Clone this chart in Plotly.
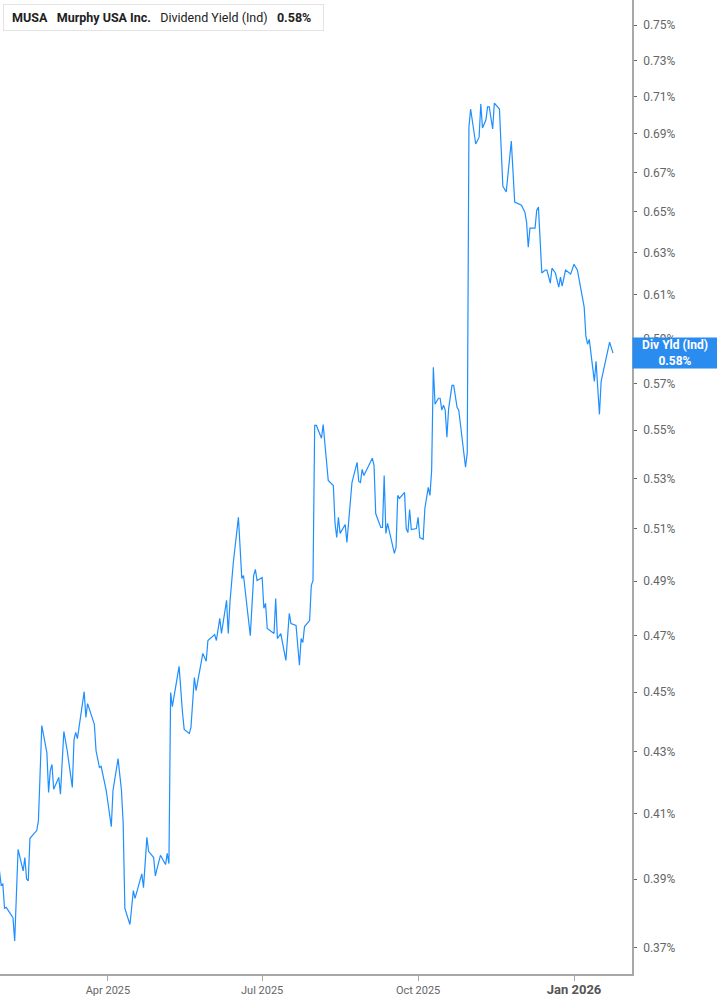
import math

import plotly.graph_objects as go

# Dividend yield (%)
dates = [
    "2025-01-27", "2025-01-28", "2025-01-29", "2025-01-30", "2025-01-31", "2025-02-02", "2025-02-04",
    "2025-02-05", "2025-02-07", "2025-02-10", "2025-02-11", "2025-02-12", "2025-02-13", "2025-02-14",
    "2025-02-18", "2025-02-19", "2025-02-21", "2025-02-24", "2025-02-25", "2025-02-26", "2025-02-27",
    "2025-02-28", "2025-03-03", "2025-03-04", "2025-03-06", "2025-03-08", "2025-03-11", "2025-03-12",
    "2025-03-13", "2025-03-14", "2025-03-18", "2025-03-19", "2025-03-20", "2025-03-24", "2025-03-25",
    "2025-03-27", "2025-03-28", "2025-03-31", "2025-04-03", "2025-04-04", "2025-04-07", "2025-04-09",
    "2025-04-10", "2025-04-11", "2025-04-14", "2025-04-16", "2025-04-17", "2025-04-21", "2025-04-22",
    "2025-04-24", "2025-04-25", "2025-04-28", "2025-04-29", "2025-04-30", "2025-05-02", "2025-05-05",
    "2025-05-06", "2025-05-07", "2025-05-08", "2025-05-09", "2025-05-13", "2025-05-15", "2025-05-16",
    "2025-05-19", "2025-05-20", "2025-05-22", "2025-05-23", "2025-05-27", "2025-05-29", "2025-05-30",
    "2025-06-03", "2025-06-04", "2025-06-06", "2025-06-07", "2025-06-10", "2025-06-11", "2025-06-12",
    "2025-06-14", "2025-06-17", "2025-06-19", "2025-06-20", "2025-06-24", "2025-06-26", "2025-06-27",
    "2025-06-28", "2025-07-01", "2025-07-02", "2025-07-03", "2025-07-04", "2025-07-08", "2025-07-09",
    "2025-07-10", "2025-07-12", "2025-07-15", "2025-07-17", "2025-07-18", "2025-07-21", "2025-07-23",
    "2025-07-24", "2025-07-25", "2025-07-26", "2025-07-29", "2025-07-30", "2025-07-31", "2025-08-01",
    "2025-08-02", "2025-08-05", "2025-08-06", "2025-08-09", "2025-08-12", "2025-08-13", "2025-08-14",
    "2025-08-15", "2025-08-16", "2025-08-19", "2025-08-20", "2025-08-23", "2025-08-26", "2025-08-27",
    "2025-08-28", "2025-08-29", "2025-08-30", "2025-09-03", "2025-09-04", "2025-09-05", "2025-09-06",
    "2025-09-09", "2025-09-10", "2025-09-11", "2025-09-12", "2025-09-13", "2025-09-15", "2025-09-17",
    "2025-09-18", "2025-09-19", "2025-09-20", "2025-09-23", "2025-09-24", "2025-09-25", "2025-09-26",
    "2025-09-27", "2025-09-30", "2025-10-01", "2025-10-02", "2025-10-04", "2025-10-05", "2025-10-07",
    "2025-10-08", "2025-10-09", "2025-10-10", "2025-10-11", "2025-10-13", "2025-10-14", "2025-10-15",
    "2025-10-16", "2025-10-17", "2025-10-18", "2025-10-19", "2025-10-21", "2025-10-22", "2025-10-24",
    "2025-10-25", "2025-10-28", "2025-10-29", "2025-10-30", "2025-10-31", "2025-11-01", "2025-11-04",
    "2025-11-06", "2025-11-07", "2025-11-08", "2025-11-10", "2025-11-11", "2025-11-12", "2025-11-14",
    "2025-11-15", "2025-11-18", "2025-11-20", "2025-11-22", "2025-11-25", "2025-11-27", "2025-11-30",
    "2025-12-01", "2025-12-03", "2025-12-04", "2025-12-05", "2025-12-06", "2025-12-09", "2025-12-10",
    "2025-12-11", "2025-12-13", "2025-12-15", "2025-12-16", "2025-12-18", "2025-12-19", "2025-12-21",
    "2025-12-23", "2025-12-24", "2025-12-25", "2025-12-27", "2025-12-30", "2026-01-01", "2026-01-03",
    "2026-01-07", "2026-01-08", "2026-01-09", "2026-01-10", "2026-01-13", "2026-01-14", "2026-01-16",
    "2026-01-17", "2026-01-22", "2026-01-24",
]
div_yield = [
    0.3925, 0.3883, 0.3886, 0.3814, 0.3817, 0.3802, 0.3787,
    0.3720, 0.3990, 0.3925, 0.3965, 0.3901, 0.3895, 0.4024,
    0.4048, 0.4079, 0.4387, 0.4296, 0.4168, 0.4239, 0.4258,
    0.4178, 0.4216, 0.4162, 0.4367, 0.4303, 0.4184, 0.4340,
    0.4364, 0.4343, 0.4502, 0.4414, 0.4461, 0.4391, 0.4303,
    0.4248, 0.4252, 0.4174, 0.4060, 0.4174, 0.4277, 0.4174,
    0.4070, 0.3814, 0.3767, 0.3866, 0.3843, 0.3916, 0.3875,
    0.4027, 0.3984, 0.3965, 0.3910, 0.3932, 0.3972, 0.3944,
    0.3978, 0.3947, 0.4499, 0.4451, 0.4590, 0.4431, 0.4374,
    0.4360, 0.4381, 0.4551, 0.4506, 0.4636, 0.4608, 0.4682,
    0.4703, 0.4682, 0.4762, 0.4707, 0.4828, 0.4707, 0.4821,
    0.4971, 0.5145, 0.4910, 0.4921, 0.4699, 0.4921, 0.4944,
    0.4902, 0.4913, 0.4799, 0.4817, 0.4725, 0.4707, 0.4835,
    0.4689, 0.4707, 0.4611, 0.4780, 0.4743, 0.4736, 0.4594,
    0.4689, 0.4675, 0.4732, 0.4754, 0.4883, 0.4902, 0.5520,
    0.5520, 0.5466, 0.5524, 0.5292, 0.5272, 0.5121, 0.5066,
    0.5145, 0.5082, 0.5117, 0.5047, 0.5284, 0.5366, 0.5288,
    0.5284, 0.5337, 0.5312, 0.5366, 0.5383, 0.5354, 0.5160,
    0.5105, 0.5105, 0.5312, 0.5082, 0.5121, 0.5066, 0.5005,
    0.5028, 0.5232, 0.5220, 0.5244, 0.5101, 0.5085, 0.5176,
    0.5097, 0.5101, 0.5145, 0.5066, 0.5059, 0.5180, 0.5264,
    0.5232, 0.5333, 0.5771, 0.5610, 0.5636, 0.5636, 0.5585,
    0.5606, 0.5585, 0.5470, 0.5589, 0.5692, 0.5692, 0.5597,
    0.5585, 0.5383, 0.5346, 0.5404, 0.6936, 0.7033, 0.6847,
    0.6883, 0.7060, 0.6931, 0.6974, 0.7044, 0.7044, 0.6926,
    0.7065, 0.7033, 0.6630, 0.6600, 0.6862, 0.6549, 0.6539,
    0.6534, 0.6499, 0.6450, 0.6327, 0.6420, 0.6420, 0.6509,
    0.6524, 0.6203, 0.6217, 0.6217, 0.6155, 0.6226, 0.6203,
    0.6136, 0.6184, 0.6141, 0.6217, 0.6198, 0.6245, 0.6217,
    0.6043, 0.5910, 0.5874, 0.5896, 0.5709, 0.5798, 0.5567,
    0.5709, 0.5883, 0.5834,
]

y_ticks = [0.37, 0.39, 0.41, 0.43, 0.45, 0.47, 0.49, 0.51, 0.53, 0.55,
           0.57, 0.59, 0.61, 0.63, 0.65, 0.67, 0.69, 0.71, 0.73, 0.75]
x_ticks = ["2025-04-01", "2025-07-01", "2025-10-01", "2026-01-01"]
x_tick_labels = ["Apr 2025", "Jul 2025", "Oct 2025", "Jan 2026"]

ticker = "MUSA"
company = "Murphy USA Inc."
metric = "Dividend Yield (Ind)"
short_metric = "Div Yld (Ind)"

LINE = "#1e8fff"
FONT = "Roboto"
last = div_yield[-1]
gap = "&nbsp;" * 3

fig = go.Figure()
fig.add_trace(
    go.Scatter(
        x=dates,
        y=div_yield,
        mode="lines",
        line={"color": LINE, "width": 1.2},
        hoverinfo="skip",
        showlegend=False,
    )
)

x_text = x_tick_labels[:-1] + [
    f"<span style='font-size:13px;color:#555'><b>{x_tick_labels[-1]}</b></span>"
]

fig.update_layout(
    width=717,
    height=1005,
    margin={"l": 0, "r": 85, "t": 0, "b": 31},
    paper_bgcolor="white",
    plot_bgcolor="white",
    font={"family": FONT, "color": "#666"},
    xaxis={
        "type": "date",
        "range": ["2025-01-27 08:00", "2026-02-04 05:00"],
        "tickvals": x_ticks,
        "ticktext": x_text,
        "tickfont": {"size": 11, "color": "#666"},
        "showgrid": False,
        "zeroline": False,
        "showline": True,
        "linecolor": "#a8a8a8",
        "linewidth": 1.5,
        "ticks": "outside",
        "ticklen": 5,
        "tickcolor": "#a8a8a8",
        "fixedrange": True,
    },
    yaxis={
        "type": "log",
        "side": "right",
        "range": [math.log10(0.3627), math.log10(0.7645)],
        "tickvals": y_ticks,
        "ticktext": [f"{v:.2f}%" for v in y_ticks],
        "tickfont": {"size": 12, "color": "#666"},
        "ticklabelstandoff": 4,
        "showgrid": False,
        "zeroline": False,
        "showline": True,
        "linecolor": "#a8a8a8",
        "linewidth": 1.5,
        "ticks": "outside",
        "ticklen": 3,
        "tickcolor": "#666",
        "fixedrange": True,
    },
    shapes=[
        # blue marker on the left of the header box
        {
            "type": "rect",
            "xref": "paper",
            "yref": "paper",
            "x0": 3 / 632,
            "x1": 6 / 632,
            "y0": 1 - 30 / 974,
            "y1": 1 - 4 / 974,
            "fillcolor": LINE,
            "line": {"width": 0},
            "layer": "above",
        }
    ],
    annotations=[
        {
            "xref": "paper",
            "yref": "paper",
            "x": 3 / 632,
            "y": 1 - 4 / 974,
            "xanchor": "left",
            "yanchor": "top",
            "showarrow": False,
            "text": (
                f"&nbsp;<b>{ticker}</b>{gap}<b>{company}</b>{gap}"
                f"{metric}{gap}<b>{last:.2f}%</b>&nbsp;&nbsp;"
            ),
            "font": {"family": FONT, "size": 12.5, "color": "#222"},
            "bgcolor": "white",
            "bordercolor": "#e3e3e3",
            "borderwidth": 1,
            "borderpad": 5,
        },
        {
            "xref": "paper",
            "yref": "y",
            "x": 1,
            "y": math.log10(last),
            "xanchor": "left",
            "yanchor": "middle",
            "showarrow": False,
            "text": f"<b>{short_metric}</b><br><b>{last:.2f}%</b>",
            "font": {"family": FONT, "size": 12, "color": "white"},
            "bgcolor": "#2b8cf0",
            "width": 82,
            "height": 28,
            "borderpad": 1,
            "align": "center",
        },
    ],
)

fig.write_html(
    "out.html",
    config={"displayModeBar": False},
    post_script="document.body.style.margin='0px';",
)
